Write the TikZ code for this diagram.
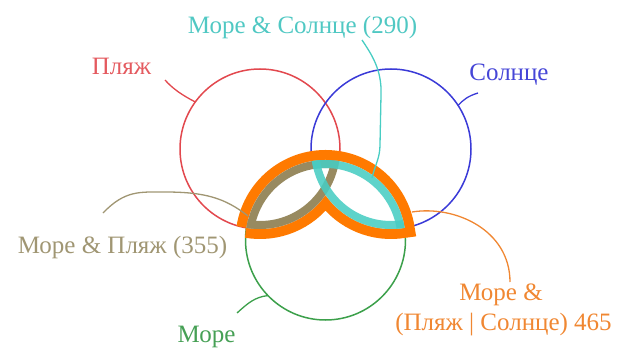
\documentclass[tikz,border=0pt]{standalone}
\usepackage{fontspec}
\setmainfont{Liberation Serif}
\definecolor{cred}{RGB}{226,72,78}
\definecolor{tred}{RGB}{228,90,95}
\definecolor{cblue}{RGB}{58,58,215}
\definecolor{tblue}{RGB}{70,70,215}
\definecolor{cgreen}{RGB}{60,160,75}
\definecolor{tgreen}{RGB}{70,160,85}
\definecolor{ccyan}{RGB}{72,205,195}
\definecolor{tcyan}{RGB}{80,200,195}
\definecolor{colive}{RGB}{152,138,96}
\definecolor{tolive}{RGB}{160,150,115}
\definecolor{corange}{RGB}{255,122,0}
\definecolor{torange}{RGB}{240,135,50}
\begin{document}
\begin{tikzpicture}[x=1pt,y=1pt,
  ring/.style={circle,draw=#1,line width=1.5pt,minimum size=160pt,inner sep=0pt,outer sep=0pt},
  lbl/.style={anchor=base,font=\fontsize{25}{30}\selectfont,text=#1,inner sep=0pt},
  leader/.style={draw=#1,line width=1.3pt}]
\useasboundingbox (0,0) rectangle (622,349);
% circles (pixel y -> 349-y)
\node[ring=cred]   (R) at (260,200) {};
\node[ring=cblue]  (B) at (391,200) {};
\node[ring=cgreen] (G) at (325.5,109) {};
% union region G and (R or B)
\coordinate (L)  at (246.43,121.16);
\coordinate (Rt) at (404.57,121.16);
\def\upath{(L) arc[start angle=171.26,end angle=8.74,radius=80]
  arc[start angle=-80.23,end angle=-144.96,radius=80]
  arc[start angle=-35.04,end angle=-99.77,radius=80] -- cycle}
\draw[corange,line width=20pt] \upath;
\fill[white] \upath;
% olive lens (R and G)
\begin{scope}
  \clip (R.center) circle (80);
  \clip (G.center) circle (80);
  \draw[colive,line width=16pt] (R.center) circle (80);
  \draw[colive,line width=16pt] (G.center) circle (80);
\end{scope}
% cyan lens (B and G)
\begin{scope}[opacity=0.88]
  \clip (B.center) circle (80);
  \clip (G.center) circle (80);
  \draw[ccyan,line width=16pt] (B.center) circle (80);
  \draw[ccyan,line width=16pt] (G.center) circle (80);
\end{scope}
% labels
\node[lbl=tcyan]   (ms)  at (302.5,316) {Море \& Солнце (290)};
\node[lbl=tred]    (pl)  at (121.5,274) {Пляж};
\node[lbl=tblue]   (so)  at (509,269) {Солнце};
\node[lbl=tolive]  (mp)  at (122.5,96) {Море \& Пляж (355)};
\node[lbl=tgreen]  (mo)  at (206.5,7) {Море};
\node[lbl=torange] (mo1) at (501,49) {Море \&};
\node[lbl=torange] (mo2) at (503.5,19) {(Пляж | Солнце) 465};
% leader ends
\coordinate (cR) at (165,269);
\coordinate (cB) at (478,256);
\coordinate (cG) at (237,36);
\coordinate (cO) at (103,136);
\coordinate (cOe) at (248,133);
\coordinate (cC) at (362,309);
\coordinate (cCe) at (372,171);
\coordinate (cX) at (412,137);
\coordinate (cXe) at (510,67);
\draw[leader=cred] (cR) .. controls (173,260) and (182,254) .. (R.144);
\draw[leader=cblue] (cB) .. controls (468,253) and (463,249) .. (B.33);
\draw[leader=cgreen] (cG) .. controls (248,46) and (255,52) .. (G.-136);
\draw[leader=tolive] (cO) .. controls (125,159) and (140,157) .. (165,157) .. controls (205,157) and (225,151) .. (cOe);
\draw[leader=ccyan] (cC) .. controls (372,294) and (382,279) .. (381,254) -- (380,204) .. controls (380,191) and (375,184) .. (cCe);
\draw[leader=torange] (cX) .. controls (455,144) and (510,119) .. (cXe);
\end{tikzpicture}
\end{document}
